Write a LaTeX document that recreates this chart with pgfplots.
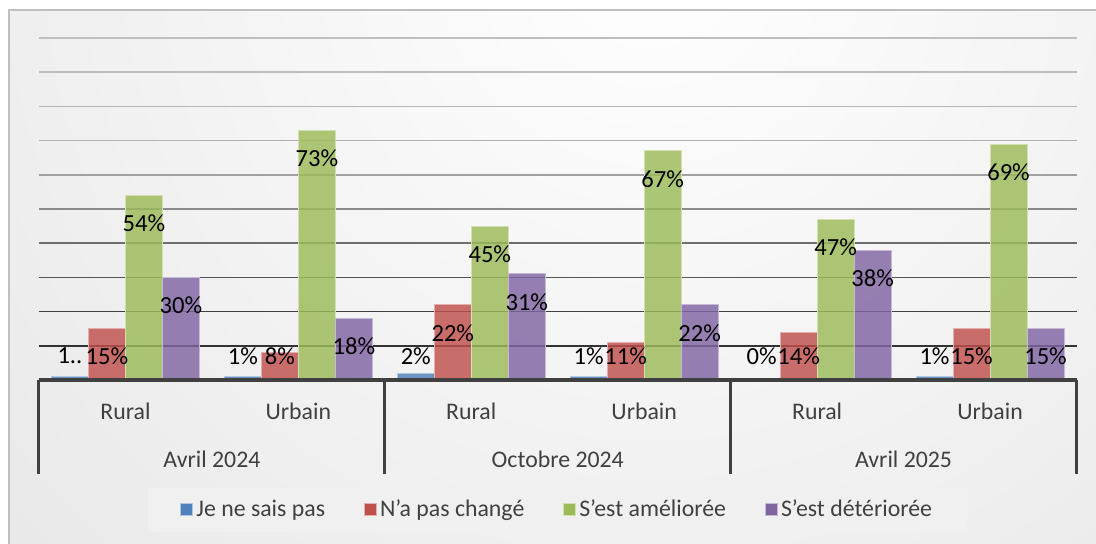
\documentclass[border=0pt]{standalone}
\usepackage{pgfplots}
\pgfplotsset{compat=1.18}
\usepackage{fontspec}
\setmainfont{Carlito}
\definecolor{cblue}{HTML}{4F81BD}
\definecolor{cred}{HTML}{C0504D}
\definecolor{cgreen}{HTML}{9BBB59}
\definecolor{cpurple}{HTML}{8064A2}
\definecolor{axgray}{HTML}{404040}
\newcommand{\lblfont}{\fontsize{11.9}{14}\selectfont}
\newcommand{\datfont}{\fontsize{12.3}{14}\selectfont}
\begin{document}
\begin{tikzpicture}
% chart background
\begin{scope}
\clip (-19.5pt,-81.5pt) rectangle (528.5pt,190pt);
\fill[white] (-19.5pt,-81.5pt) rectangle (528.5pt,190pt);
\begin{scope}
\clip (-15pt,-100pt) rectangle (560pt,185pt);
\fill[black!18] (-15pt,-100pt) rectangle (560pt,185pt);
\shade[inner color=white, outer color=black!18] (305.5pt,215pt) circle (900pt);
\end{scope}
\draw[black!25, line width=1pt] (-15pt,-100pt) rectangle (560pt,185pt);
\end{scope}
% horizontal gridlines (axis box: 518.75pt wide, 1.71pt per percent)
\draw[black!80, line width=0.8pt] (0pt,17.1pt) -- (518.75pt,17.1pt);
\draw[black!75, line width=0.8pt] (0pt,34.2pt) -- (518.75pt,34.2pt);
\draw[black!67, line width=0.8pt] (0pt,51.3pt) -- (518.75pt,51.3pt);
\draw[black!57, line width=0.8pt] (0pt,68.4pt) -- (518.75pt,68.4pt);
\draw[black!46, line width=0.8pt] (0pt,85.5pt) -- (518.75pt,85.5pt);
\draw[black!37, line width=0.8pt] (0pt,102.6pt) -- (518.75pt,102.6pt);
\draw[black!31, line width=0.8pt] (0pt,119.7pt) -- (518.75pt,119.7pt);
\draw[black!29, line width=0.8pt] (0pt,136.8pt) -- (518.75pt,136.8pt);
\draw[black!26, line width=0.8pt] (0pt,153.9pt) -- (518.75pt,153.9pt);
\draw[black!25, line width=0.8pt] (0pt,171pt) -- (518.75pt,171pt);
\begin{axis}[
  at={(0,0)}, anchor=south west,
  scale only axis, width=518.75pt, height=171pt,
  xmin=-0.5, xmax=5.5, ymin=0, ymax=100,
  clip=false,
  axis line style={draw=none},
  ytick=\empty,
  xtick={0,1,2,3,4,5},
  xticklabels={Rural,Urbain,Rural,Urbain,Rural,Urbain},
  major tick length=0pt,
  xticklabel style={anchor=center, yshift=-15.5pt, text=axgray, font=\lblfont},
  extra x ticks={0.5,2.5,4.5},
  extra x tick labels={Avril 2024,Octobre 2024,Avril 2025},
  extra x tick style={xticklabel style={yshift=-24pt}},
  ybar, bar width=0.214,
  nodes near coords,
  point meta=explicit symbolic,
  visualization depends on={rawy \as \rawy},
  every node near coord/.append style={anchor=center, text=black, font=\datfont,
     fill opacity=1, text opacity=1, inner sep=0pt,
     yshift={1.71pt*(max(\rawy-8.2,7.1)-\rawy)}},
  legend columns=4,
  legend style={at={(0.5,-0.380)}, anchor=center, draw=none, fill=black!6,
     font=\lblfont, text=axgray, inner xsep=16pt, inner ysep=4pt,
     /tikz/every even column/.append style={column sep=18pt},
     nodes={inner xsep=1.5pt}},
  legend image code/.code={\filldraw[#1, fill opacity=1, draw opacity=1] (0pt,-3pt) rectangle (6pt,3pt);},
]
\addplot[fill=cblue, fill opacity=0.82, draw=cblue!45!white, line width=0.5pt, bar shift=-0.321]
  coordinates {(0,1) [1..] (1,1) [1\%] (2,2) [2\%] (3,1) [1\%] (4,0) [0\%] (5,1) [1\%]};
\addplot[fill=cred, fill opacity=0.82, draw=cred!45!white, line width=0.5pt, bar shift=-0.107]
  coordinates {(0,15) [15\%] (1,8) [8\%] (2,22) [22\%] (3,11) [11\%] (4,14) [14\%] (5,15) [15\%]};
\addplot[fill=cgreen, fill opacity=0.82, draw=cgreen!45!white, line width=0.5pt, bar shift=0.107]
  coordinates {(0,54) [54\%] (1,73) [73\%] (2,45) [45\%] (3,67) [67\%] (4,47) [47\%] (5,69) [69\%]};
\addplot[fill=cpurple, fill opacity=0.82, draw=cpurple!45!white, line width=0.5pt, bar shift=0.321]
  coordinates {(0,30) [30\%] (1,18) [18\%] (2,31) [31\%] (3,22) [22\%] (4,38) [38\%] (5,15) [15\%]};
\legend{Je ne sais pas, N’a pas changé, S’est améliorée, S'est détériorée}
% category axis frame
\draw[axgray, line width=1.6pt] (axis cs:-0.5,0) -- (axis cs:5.5,0);
\draw[axgray, line width=1.5pt] (axis cs:-0.5,0) -- ++(0pt,-47pt);
\draw[axgray, line width=1.5pt] (axis cs:1.5,0) -- ++(0pt,-47pt);
\draw[axgray, line width=1.5pt] (axis cs:3.5,0) -- ++(0pt,-47pt);
\draw[axgray, line width=1.5pt] (axis cs:5.5,0) -- ++(0pt,-47pt);
\end{axis}
\pgfresetboundingbox
\path[use as bounding box] (-19.5pt,-81.5pt) rectangle (528.5pt,190pt);
\end{tikzpicture}
\end{document}
